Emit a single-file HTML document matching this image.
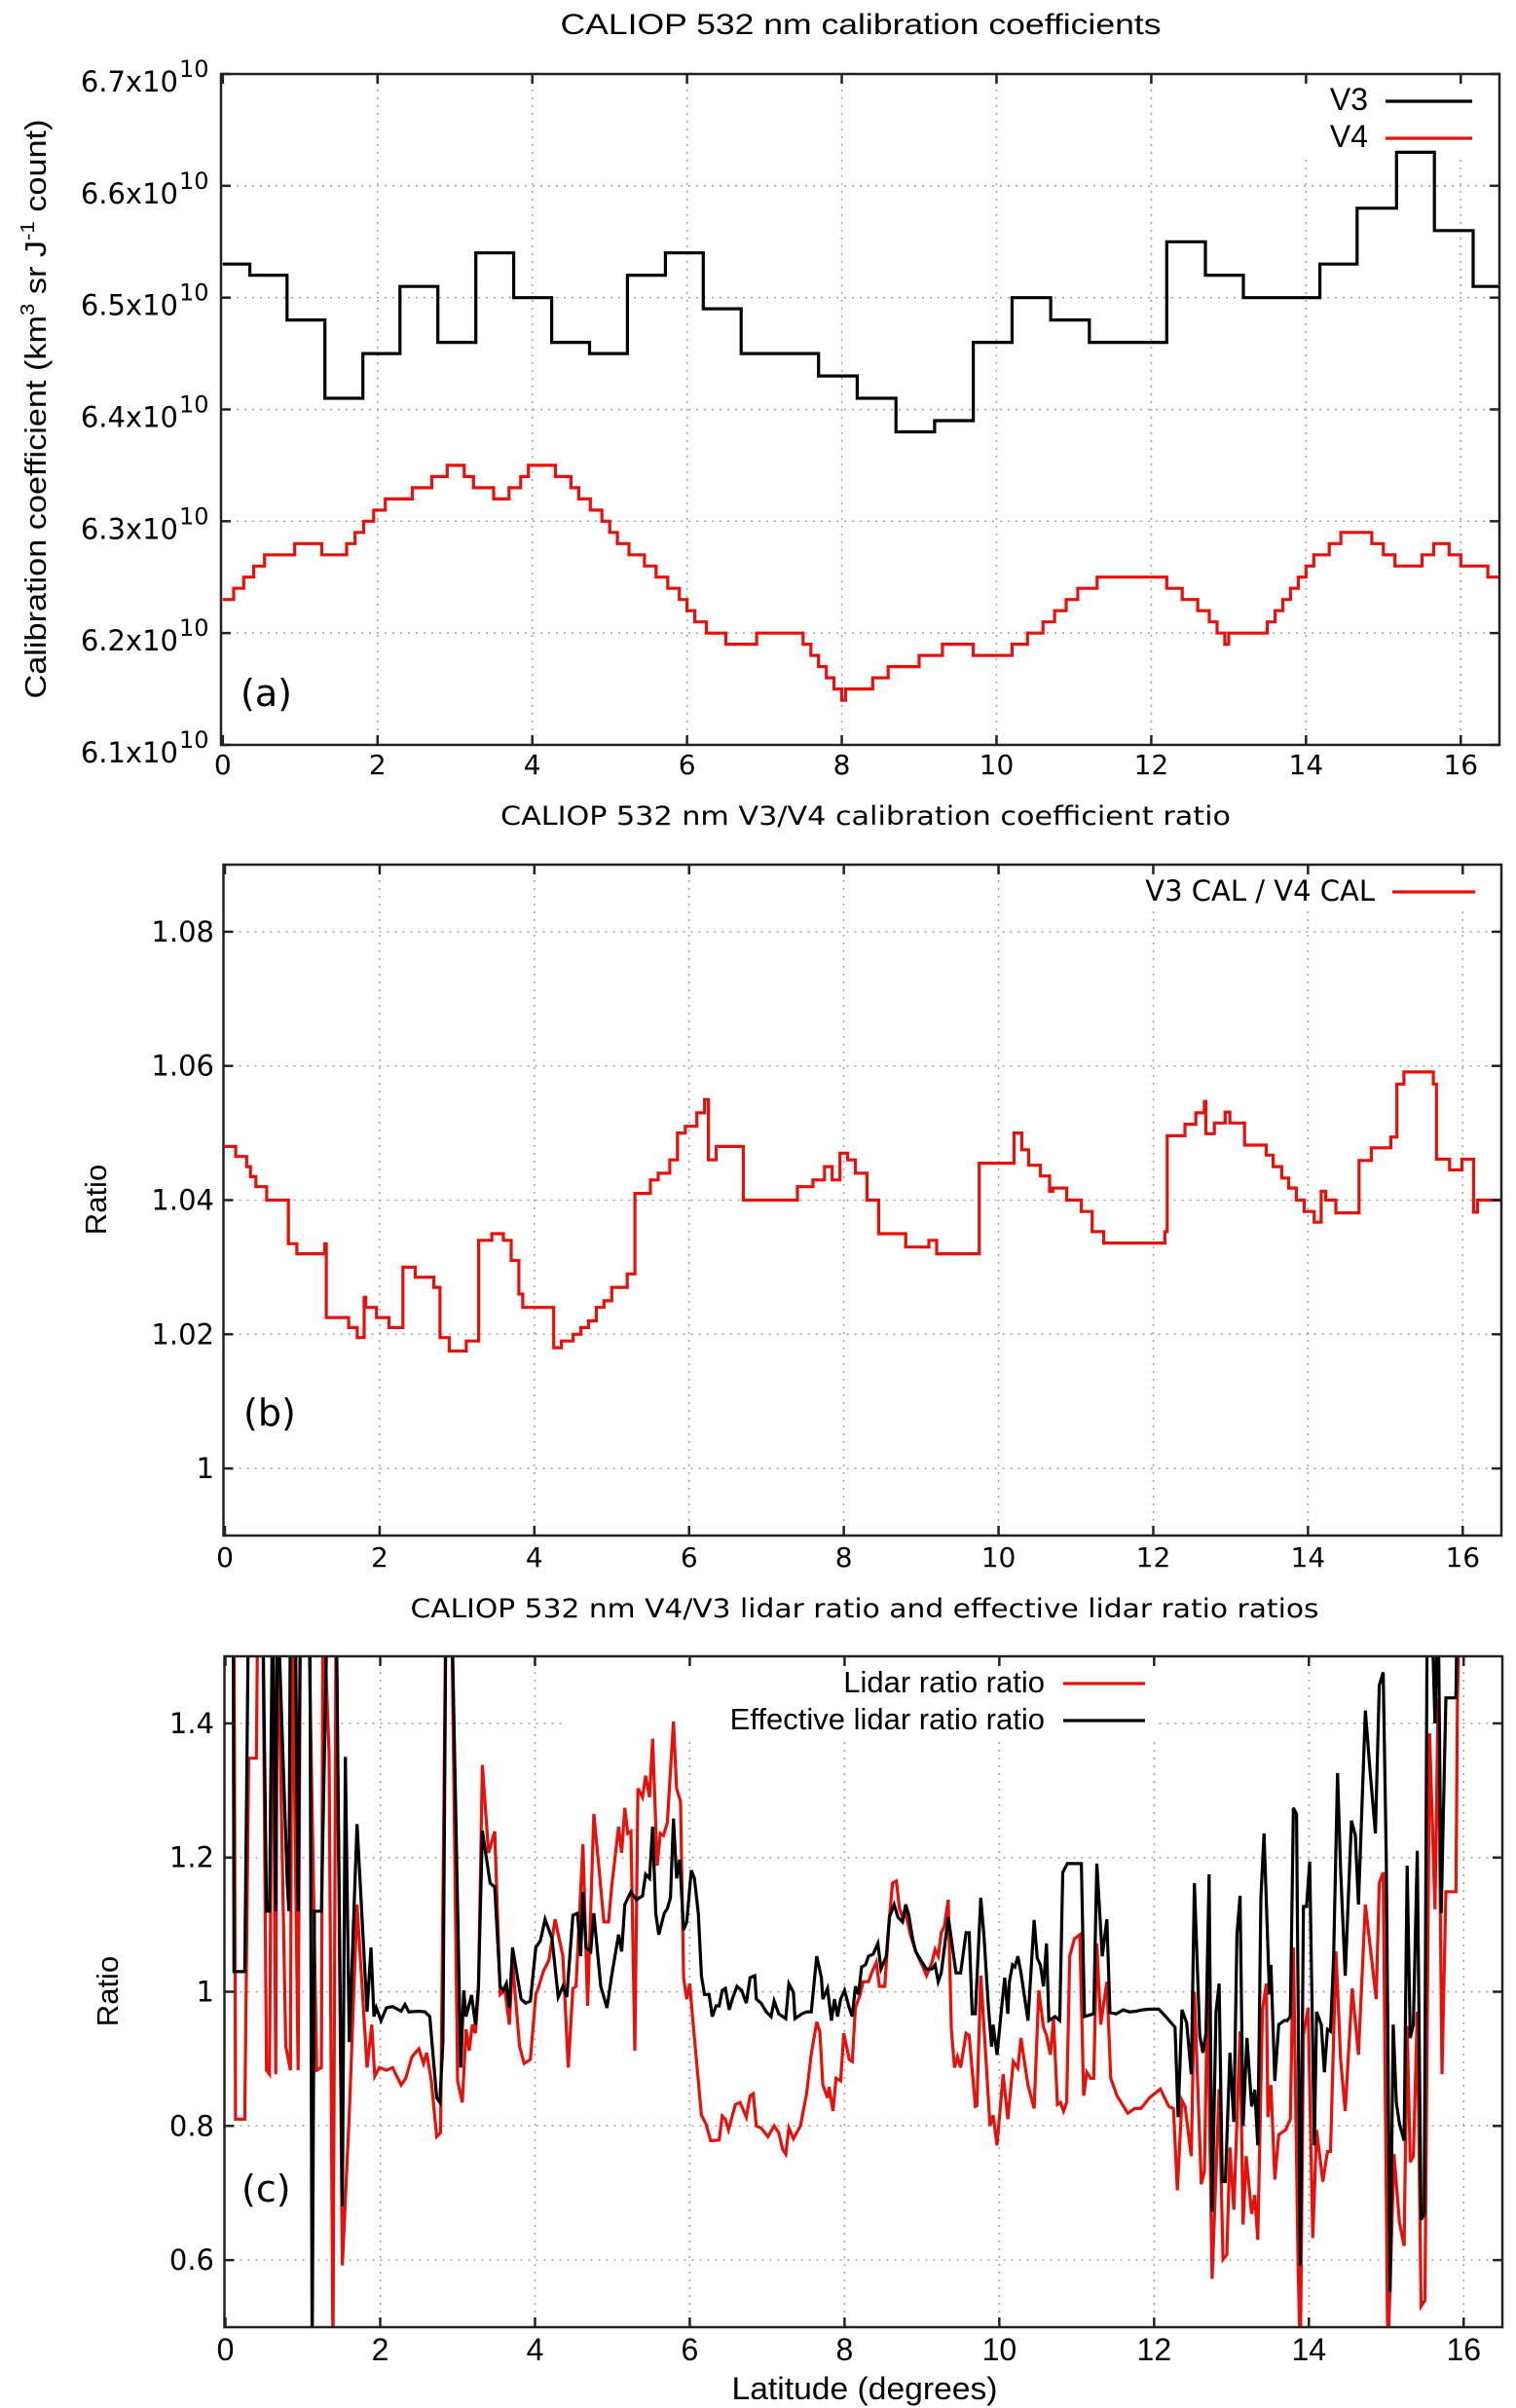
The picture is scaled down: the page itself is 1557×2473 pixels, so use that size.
<!DOCTYPE html>
<html><head><meta charset="utf-8"><title>CALIOP 532 nm calibration</title>
<style>
html,body{margin:0;padding:0;background:#fff;}
svg{display:block;}
.w{font-family:"DejaVu Sans","Liberation Sans",sans-serif;}
.n{font-family:"Liberation Sans",sans-serif;}
</style></head>
<body>
<svg id="fig" width="1557" height="2473" viewBox="0 0 1557 2473" xmlns="http://www.w3.org/2000/svg">
<rect width="1557" height="2473" fill="#fff"/>
<text class="n" x="884" y="35" font-size="30" text-anchor="middle" textLength="617" lengthAdjust="spacingAndGlyphs">CALIOP 532 nm calibration coefficients</text>
<text class="w" x="889" y="847" font-size="27" text-anchor="middle" textLength="750" lengthAdjust="spacingAndGlyphs">CALIOP 532 nm V3/V4 calibration coefficient ratio</text>
<text class="w" x="888" y="1661" font-size="27" text-anchor="middle" textLength="933" lengthAdjust="spacingAndGlyphs">CALIOP 532 nm V4/V3 lidar ratio and effective lidar ratio ratios</text>
<text class="n" transform="translate(47,420) rotate(-90)" font-size="31" text-anchor="middle" textLength="595" lengthAdjust="spacingAndGlyphs">Calibration coefficient (km<tspan font-size="20" dy="-12">3</tspan><tspan dy="12"> sr J</tspan><tspan font-size="20" dy="-12">-1</tspan><tspan dy="12"> count)</tspan></text>
<text class="n" transform="translate(109,1232) rotate(-90)" font-size="31" text-anchor="middle">Ratio</text>
<text class="n" transform="translate(121,2045) rotate(-90)" font-size="31" text-anchor="middle">Ratio</text>
<text class="n" x="888" y="2464" font-size="32" text-anchor="middle" textLength="273" lengthAdjust="spacingAndGlyphs">Latitude (degrees)</text>
</svg>
<script>
// ---------- Panel (a) data ----------
const v3Edges = [0,0.35,0.83,1.32,1.81,2.29,2.78,3.27,3.76,4.25,4.74,5.23,5.72,6.21,6.7,7.7,8.2,8.7,9.2,9.7,10.2,10.7,11.2,12.2,12.7,13.19,14.18,14.66,15.17,15.66,16.16];
const v3Values = [6.53,6.52,6.48,6.41,6.45,6.51,6.46,6.54,6.50,6.46,6.45,6.52,6.54,6.49,6.45,6.43,6.41,6.38,6.39,6.46,6.50,6.48,6.46,6.55,6.52,6.50,6.53,6.58,6.63,6.56,6.51];
const v4Edges = [0,0.14,0.27,0.4,0.54,0.93,1.28,1.6,1.71,1.82,1.95,2.1,2.45,2.7,2.9,3.12,3.24,3.5,3.7,3.85,3.95,4.3,4.5,4.6,4.75,4.9,5.0,5.1,5.25,5.45,5.6,5.75,5.9,6.0,6.1,6.25,6.5,6.9,7.5,7.6,7.7,7.8,7.9,8.0,8.05,8.4,8.6,9.0,9.3,9.7,10.2,10.4,10.6,10.75,10.9,11.05,11.3,12.2,12.4,12.6,12.75,12.85,12.95,13.0,13.5,13.6,13.7,13.8,13.9,14.0,14.1,14.3,14.45,14.85,15.0,15.15,15.5,15.65,15.85,16.0,16.35];
const v4Values = [6.23,6.24,6.25,6.26,6.27,6.28,6.27,6.28,6.29,6.30,6.31,6.32,6.33,6.34,6.35,6.34,6.33,6.32,6.33,6.34,6.35,6.34,6.33,6.32,6.31,6.30,6.29,6.28,6.27,6.26,6.25,6.24,6.23,6.22,6.21,6.20,6.19,6.20,6.19,6.18,6.17,6.16,6.15,6.14,6.15,6.16,6.17,6.18,6.19,6.18,6.19,6.20,6.21,6.22,6.23,6.24,6.25,6.24,6.23,6.22,6.21,6.20,6.19,6.20,6.21,6.22,6.23,6.24,6.25,6.26,6.27,6.28,6.29,6.28,6.27,6.26,6.27,6.28,6.27,6.26,6.25];
const aYTicks = [6.1,6.2,6.3,6.4,6.5,6.6,6.7];
const aYTickLabels = ["6.1","6.2","6.3","6.4","6.5","6.6","6.7"];
const xTicks = [0,2,4,6,8,10,12,14,16];
const xTickLabels = ["0","2","4","6","8","10","12","14","16"];

// ---------- Panel (b) data ----------
const ratioEdges = [0,0.14,0.28,0.33,0.4,0.54,0.82,0.93,1.29,1.31,1.6,1.71,1.8,1.82,1.96,2.12,2.3,2.46,2.7,2.78,2.9,3.12,3.28,3.45,3.6,3.7,3.8,3.85,4.25,4.35,4.5,4.6,4.7,4.8,4.9,5.0,5.2,5.3,5.5,5.6,5.75,5.85,5.95,6.1,6.2,6.25,6.35,6.7,7.4,7.6,7.75,7.85,7.95,8.05,8.15,8.3,8.45,8.8,9.1,9.2,9.75,10.2,10.3,10.39,10.54,10.66,10.7,10.88,11.07,11.21,11.36,12.15,12.18,12.41,12.55,12.66,12.68,12.79,12.93,12.99,13.18,13.46,13.55,13.66,13.75,13.85,13.95,14.08,14.17,14.23,14.36,14.66,14.82,15.07,15.15,15.24,15.62,15.66,15.83,15.99,16.14,16.19];
const ratioValues = [1.048,1.0465,1.045,1.0435,1.042,1.040,1.0335,1.032,1.0335,1.0225,1.021,1.0195,1.0255,1.024,1.0225,1.021,1.030,1.0285,1.027,1.0195,1.0175,1.019,1.034,1.035,1.034,1.031,1.026,1.024,1.018,1.019,1.020,1.021,1.022,1.024,1.025,1.027,1.029,1.041,1.043,1.044,1.046,1.050,1.051,1.053,1.055,1.046,1.048,1.040,1.042,1.043,1.045,1.043,1.047,1.046,1.044,1.040,1.035,1.033,1.034,1.032,1.0455,1.050,1.0475,1.0452,1.0436,1.0413,1.0418,1.040,1.0383,1.0353,1.0336,1.0353,1.0496,1.0513,1.053,1.0547,1.0499,1.0515,1.0531,1.0515,1.0482,1.0467,1.045,1.0433,1.0418,1.040,1.0383,1.0367,1.0413,1.040,1.0381,1.0459,1.0478,1.0494,1.0573,1.0591,1.0573,1.0461,1.0445,1.0461,1.0382,1.040];
const bYTicks = [1.00,1.02,1.04,1.06,1.08];
const bYTickLabels = ["1","1.02","1.04","1.06","1.08"];

// ---------- Panel (c) data ----------
const lrLat = [0,0.11,0.13,0.25,0.30,0.40,0.42,0.48,0.53,0.57,0.61,0.65,0.67,0.78,0.84,0.86,0.94,0.97,1.07,1.18,1.24,1.26,1.34,1.39,1.43,1.51,1.60,1.70,1.83,1.89,1.93,1.99,2.08,2.16,2.27,2.33,2.41,2.50,2.56,2.60,2.66,2.73,2.78,2.85,2.92,3.00,3.06,3.11,3.15,3.19,3.23,3.27,3.32,3.40,3.48,3.55,3.61,3.67,3.71,3.80,3.86,3.94,4.01,4.05,4.11,4.18,4.26,4.36,4.43,4.49,4.53,4.62,4.68,4.76,4.83,4.89,4.95,4.99,5.08,5.12,5.16,5.20,5.24,5.29,5.33,5.39,5.43,5.48,5.52,5.58,5.62,5.66,5.71,5.79,5.83,5.88,5.92,5.96,6.00,6.04,6.09,6.15,6.21,6.27,6.38,6.42,6.46,6.50,6.59,6.65,6.73,6.78,6.82,6.86,6.92,7.01,7.09,7.15,7.20,7.24,7.28,7.34,7.43,7.51,7.57,7.64,7.68,7.72,7.78,7.80,7.85,7.89,7.95,7.99,8.06,8.10,8.14,8.20,8.24,8.31,8.35,8.41,8.45,8.52,8.58,8.62,8.67,8.71,8.75,8.79,8.85,8.92,9.00,9.06,9.13,9.17,9.21,9.25,9.29,9.34,9.38,9.42,9.46,9.50,9.57,9.61,9.69,9.71,9.76,9.82,9.88,9.92,9.97,10.05,10.11,10.18,10.24,10.28,10.32,10.37,10.45,10.51,10.57,10.61,10.66,10.70,10.75,10.79,10.83,10.87,10.91,10.97,11.04,11.09,11.13,11.18,11.22,11.26,11.31,11.39,11.44,11.52,11.66,11.75,11.83,11.94,12.08,12.19,12.25,12.30,12.36,12.40,12.48,12.52,12.61,12.65,12.69,12.75,12.84,12.89,12.94,12.98,13.03,13.11,13.15,13.19,13.26,13.30,13.34,13.40,13.45,13.47,13.51,13.56,13.61,13.70,13.76,13.80,13.86,13.89,13.93,13.99,14.05,14.10,14.18,14.24,14.28,14.35,14.41,14.47,14.56,14.64,14.73,14.87,14.91,14.96,15.02,15.10,15.17,15.23,15.27,15.31,15.35,15.40,15.45,15.50,15.56,15.63,15.67,15.72,15.77,15.90,15.92,15.95];
const lrValues = [1.6,1.6,0.81,0.81,1.348,1.348,1.6,1.6,0.883,0.877,1.6,0.877,1.6,0.919,0.883,1.6,0.883,1.6,1.6,0.883,0.887,1.6,1.354,0.45,1.6,0.592,0.816,1.13,0.887,0.951,0.874,0.887,0.883,0.887,0.861,0.871,0.903,0.915,0.893,0.909,0.867,0.784,0.790,1.6,1.6,0.867,0.835,0.944,0.912,0.951,0.938,1.002,1.338,1.207,1.239,0.996,1.002,0.951,1.044,0.919,0.893,0.899,0.996,1.008,1.031,1.047,1.108,1.053,0.887,1.005,1.008,1.220,0.979,1.265,1.181,1.104,1.104,1.156,1.246,1.207,1.274,1.236,1.239,0.912,1.303,1.290,1.322,1.290,1.377,1.188,1.236,1.233,1.252,1.403,1.303,1.284,1.021,0.989,1.012,0.957,0.893,0.816,0.803,0.778,0.779,0.815,0.810,0.794,0.832,0.835,0.813,0.845,0.848,0.800,0.797,0.784,0.800,0.790,0.765,0.758,0.797,0.781,0.800,0.848,0.907,0.955,0.941,0.861,0.842,0.858,0.822,0.871,0.867,0.938,0.899,0.896,0.976,0.995,1.015,1.015,1.028,1.044,1.008,1.008,1.111,1.162,1.165,1.124,1.111,1.117,1.085,1.060,1.040,1.024,1.044,1.063,1.053,1.088,1.098,1.137,0.944,0.887,0.903,0.887,0.938,0.935,0.829,0.830,1.024,0.912,0.800,0.816,0.771,0.877,0.810,0.896,0.886,0.931,0.899,0.861,0.826,1.002,0.947,0.935,0.906,0.960,0.832,0.835,0.822,0.835,1.053,1.079,1.085,0.845,0.880,0.871,0.871,1.072,0.951,1.015,0.871,0.845,0.819,0.826,0.826,0.842,0.855,0.829,0.826,0.704,0.838,0.829,0.755,1.0,0.713,0.733,1.0,0.572,0.855,0.601,0.608,0.768,0.675,0.941,0.653,0.755,0.669,0.697,0.630,0.974,1.012,0.813,0.861,0.720,0.787,0.794,0.810,1.066,0.592,0.45,0.935,0.976,0.633,0.794,0.717,0.762,0.762,1.060,0.899,0.822,1.005,0.906,1.130,0.989,1.162,1.178,0.45,0.758,0.656,0.621,0.949,0.746,0.755,0.970,0.531,0.540,1.385,1.123,1.438,0.877,1.149,1.149,1.438,1.6];
const elrLat = [0,0.10,0.11,0.25,0.30,0.48,0.53,0.57,0.61,0.65,0.67,0.80,0.82,0.84,0.90,0.94,0.97,1.09,1.12,1.15,1.24,1.32,1.43,1.51,1.55,1.60,1.70,1.83,1.88,1.92,1.95,2.01,2.08,2.16,2.27,2.32,2.37,2.50,2.58,2.64,2.73,2.77,2.81,2.85,2.92,3.04,3.08,3.11,3.18,3.23,3.27,3.32,3.42,3.48,3.55,3.59,3.63,3.67,3.71,3.82,3.88,3.94,4.01,4.07,4.13,4.22,4.30,4.36,4.41,4.49,4.55,4.59,4.62,4.66,4.72,4.76,4.85,4.93,4.99,5.08,5.12,5.16,5.24,5.31,5.39,5.43,5.48,5.52,5.56,5.60,5.67,5.71,5.75,5.79,5.83,5.87,5.92,5.96,6.02,6.06,6.11,6.15,6.19,6.25,6.29,6.34,6.38,6.42,6.46,6.51,6.55,6.61,6.67,6.73,6.78,6.84,6.86,6.92,6.99,7.05,7.09,7.15,7.24,7.28,7.34,7.36,7.45,7.51,7.57,7.64,7.70,7.72,7.78,7.83,7.87,7.91,7.95,8.00,8.06,8.10,8.14,8.18,8.22,8.27,8.31,8.37,8.43,8.47,8.54,8.58,8.64,8.69,8.75,8.79,8.83,8.88,8.92,9.00,9.06,9.13,9.17,9.21,9.25,9.34,9.44,9.50,9.57,9.61,9.65,9.69,9.76,9.80,9.86,9.90,9.92,9.97,10.03,10.07,10.11,10.13,10.17,10.20,10.24,10.28,10.37,10.45,10.49,10.53,10.57,10.61,10.64,10.72,10.78,10.82,10.88,10.94,11.06,11.10,11.22,11.26,11.33,11.39,11.43,11.51,11.60,11.68,11.77,11.85,11.94,12.06,12.15,12.27,12.31,12.36,12.42,12.48,12.52,12.59,12.63,12.67,12.71,12.75,12.80,12.84,12.88,12.92,12.98,13.03,13.07,13.11,13.15,13.20,13.26,13.30,13.34,13.38,13.42,13.49,13.51,13.56,13.61,13.68,13.72,13.76,13.80,13.84,13.89,13.93,13.97,14.01,14.07,14.10,14.16,14.20,14.24,14.28,14.32,14.37,14.41,14.47,14.55,14.60,14.64,14.73,14.79,14.86,14.91,14.96,15.00,15.05,15.09,15.13,15.17,15.23,15.27,15.31,15.35,15.40,15.45,15.49,15.53,15.58,15.63,15.67,15.71,15.77,15.90,15.92];
const elrValues = [1.6,1.6,1.03,1.03,1.6,1.6,1.12,1.12,1.6,1.12,1.6,1.16,1.12,1.6,1.6,1.12,1.6,1.6,0.45,1.12,1.12,1.6,1.6,0.68,1.35,0.925,1.25,0.97,1.066,0.963,0.976,0.957,0.976,0.978,0.971,0.981,0.97,0.971,0.97,0.963,0.842,0.835,0.925,1.6,1.6,0.887,1.002,0.963,0.995,0.951,1.01,1.24,1.162,1.156,1.008,1.002,1.012,0.976,1.066,0.989,0.983,0.986,1.066,1.076,1.108,1.079,0.992,1.008,0.992,1.114,1.117,1.053,1.149,1.066,1.06,1.117,1.008,0.976,1.024,1.085,1.06,1.13,1.149,1.137,1.143,1.175,1.169,1.246,1.117,1.085,1.117,1.124,1.140,1.258,1.169,1.197,1.092,1.104,1.181,1.169,1.117,1.024,0.996,0.996,0.963,0.979,0.979,1.002,1.005,0.973,0.989,1.008,1.002,0.983,1.021,1.024,0.989,0.983,0.970,0.963,0.986,0.967,0.960,1.012,0.999,0.960,0.967,0.970,0.970,1.053,1.021,0.989,1.005,0.957,0.989,0.963,0.989,1.002,0.976,0.963,1.008,0.996,1.037,1.040,1.053,1.056,1.072,1.034,1.053,1.111,1.130,1.111,1.104,1.130,1.114,1.079,1.060,1.044,1.034,1.034,1.040,1.015,1.028,1.111,1.028,1.028,1.088,1.088,0.967,0.967,1.140,1.085,0.976,0.918,0.951,0.906,0.976,1.021,0.967,1.015,1.040,1.037,1.053,1.028,0.957,1.107,1.050,1.040,1.008,1.072,0.957,0.963,0.957,1.178,1.191,1.191,1.191,0.963,0.967,1.191,1.053,1.108,0.969,0.967,0.973,0.970,0.971,0.973,0.974,0.974,0.963,0.947,0.813,0.973,0.954,0.877,1.162,0.935,0.909,0.938,1.175,0.672,0.970,1.012,0.717,0.717,0.909,0.806,1.085,1.143,0.800,0.931,0.829,0.854,0.771,1.140,1.236,0.996,1.040,0.867,0.951,0.957,0.957,0.963,1.274,1.265,0.592,1.127,1.127,1.194,0.771,0.970,0.951,0.880,0.944,0.941,1.053,1.326,1.181,1.024,1.255,1.233,1.130,1.419,1.329,1.236,1.457,1.476,1.194,0.553,0.951,0.835,0.803,0.778,1.188,0.931,0.951,1.210,0.660,0.669,1.6,1.6,1.40,1.6,1.117,1.438,1.438,1.6];
const cYTicks = [0.6,0.8,1.0,1.2,1.4];
const cYTickLabels = ["0.6","0.8","1","1.2","1.4"];

const NS = "http://www.w3.org/2000/svg";
const svg = document.getElementById("fig");
function mk(tag, attrs, parent) {
  const e = document.createElementNS(NS, tag);
  for (const k in attrs) e.setAttribute(k, attrs[k]);
  (parent || svg).appendChild(e);
  return e;
}
function makeAxis(d0, d1, p0, p1) { return v => p0 + (v - d0) * (p1 - p0) / (d1 - d0); }

function panel(cfg) {
  const g = mk("g", {});
  
  
  const X = makeAxis(cfg.xmin, cfg.xmax, cfg.L, cfg.R);
  const Y = makeAxis(cfg.ymin, cfg.ymax, cfg.B, cfg.T);
  xTicks.forEach(t => {
    if (t <= cfg.xmin + 0.05) return;
    const l = mk("line", {x1: X(t), x2: X(t), y1: cfg.T, y2: cfg.B, stroke: "#a0a0a0", "stroke-width": 1.5, "stroke-dasharray": "2,6"}, g);
    
    
  });
  cfg.yTicks.forEach(t => {
    const l = mk("line", {x1: cfg.L, x2: cfg.R, y1: Y(t), y2: Y(t), stroke: "#a0a0a0", "stroke-width": 1.5, "stroke-dasharray": "2,6"}, g);
    
    
  });
  const m = mk("rect", {x: cfg.leg[0], y: cfg.leg[1], width: cfg.leg[2], height: cfg.leg[3], fill: "#fff"}, g);
  
  
  const cp = mk("clipPath", {id: cfg.name + "-clip"}, g);
  mk("rect", {x: cfg.L, y: cfg.T, width: cfg.R - cfg.L, height: cfg.B - cfg.T}, cp);
  cfg.series.forEach(s => {
    let d = "";
    if (s.step) {
      for (let i = 0; i < s.xs.length; i++) {
        const x0 = X(s.xs[i]);
        const x1 = X(i + 1 < s.xs.length ? s.xs[i + 1] : cfg.xmax);
        const y = Y(s.ys[i]);
        d += (i === 0 ? "M" : "L") + x0.toFixed(1) + "," + y.toFixed(1) + "L" + x1.toFixed(1) + "," + y.toFixed(1);
      }
    } else {
      for (let i = 0; i < s.xs.length; i++) {
        d += (i === 0 ? "M" : "L") + X(s.xs[i]).toFixed(1) + "," + Y(s.ys[i]).toFixed(1);
      }
    }
    const p = mk("path", {d: d, fill: "none", stroke: s.color, "stroke-width": 3.2, "stroke-linejoin": "miter", "clip-path": "url(#" + cfg.name + "-clip)"}, g);
    
    
  });
  const b = mk("rect", {x: cfg.L, y: cfg.T, width: cfg.R - cfg.L, height: cfg.B - cfg.T, fill: "none", stroke: "#222", "stroke-width": 2.5}, g);
  
  
  xTicks.forEach((t, i) => {
    const x = X(t);
    mk("line", {x1: x, x2: x, y1: cfg.B, y2: cfg.B - 10, stroke: "#222", "stroke-width": 2.5}, g);
    mk("line", {x1: x, x2: x, y1: cfg.T, y2: cfg.T + 10, stroke: "#222", "stroke-width": 2.5}, g);
    const tx = mk("text", {x: x, y: cfg.xLabY, "text-anchor": "middle", "font-size": cfg.xLabSize, class: cfg.xLabClass}, g);
    tx.textContent = xTickLabels[i];
    
    
  });
  cfg.yTicks.forEach((t, i) => {
    const y = Y(t);
    mk("line", {x1: cfg.L, x2: cfg.L + 10, y1: y, y2: y, stroke: "#222", "stroke-width": 2.5}, g);
    mk("line", {x1: cfg.R, x2: cfg.R - 10, y1: y, y2: y, stroke: "#222", "stroke-width": 2.5}, g);
    const tx = mk("text", {x: cfg.yLabX, y: y + 10, "text-anchor": "end", "font-size": 29, class: "w"}, g);
    
    
    if (cfg.sci) {
      tx.setAttribute("x", 183);
      tx.setAttribute("y", y + 18);
      tx.textContent = cfg.yLabels[i] + "x10";
      const sup = mk("text", {x: 184, y: y + 3, "font-size": 24, class: "w"}, g);
      sup.textContent = "10";
      
      
    } else {
      tx.textContent = cfg.yLabels[i];
    }
  });
  cfg.legend.forEach(le => {
    const tx = mk("text", {x: le.tx, y: le.y + 11, "text-anchor": "end", "font-size": le.size, class: le.cls}, g);
    tx.textContent = le.label;
    
    
    const ln = mk("line", {x1: le.lx1, x2: le.lx2, y1: le.y + 2, y2: le.y + 2, stroke: le.color, "stroke-width": 3.2}, g);
    
    
  });
  const pl = mk("text", {x: cfg.tag[0], y: cfg.tag[1], "font-size": 38, class: "w"}, g);
  pl.textContent = cfg.tag[2];
  
  
}

panel({name: "panel-a", L: 227, R: 1540, T: 76, B: 765, xmin: -0.023, xmax: 16.5, ymin: 6.1, ymax: 6.7,
  yTicks: aYTicks, yLabels: aYTickLabels, sci: true, yLabX: 217, xLabY: 795, xLabSize: 28, xLabClass: "w",
  leg: [1340, 80, 190, 80],
  series: [{id: "v3-line", xs: v3Edges, ys: v3Values, color: "#000", step: true},
           {id: "v4-line", xs: v4Edges, ys: v4Values, color: "#e8100a", step: true}],
  legend: [{label: "V3", tx: 1405, y: 102, lx1: 1423, lx2: 1512, color: "#000", size: 32, cls: "n"},
           {label: "V4", tx: 1405, y: 140, lx1: 1423, lx2: 1512, color: "#e8100a", size: 32, cls: "n"}],
  tag: [247, 725, "(a)"]});

panel({name: "panel-b", L: 229.5, R: 1542, T: 888, B: 1577, xmin: -0.019, xmax: 16.5, ymin: 0.99, ymax: 1.09,
  yTicks: bYTicks, yLabels: bYTickLabels, sci: false, yLabX: 220, xLabY: 1609, xLabSize: 28, xLabClass: "w",
  leg: [1140, 892, 395, 44],
  series: [{id: "ratio-line", xs: ratioEdges, ys: ratioValues, color: "#e8100a", step: true}],
  legend: [{label: "V3 CAL / V4 CAL", tx: 1412, y: 914, lx1: 1430, lx2: 1515, color: "#e8100a", size: 29, cls: "w"}],
  tag: [250, 1464, "(b)"]});

panel({name: "panel-c", L: 230.5, R: 1543, T: 1701, B: 2390, xmin: -0.013, xmax: 16.5, ymin: 0.5, ymax: 1.5,
  yTicks: cYTicks, yLabels: cYTickLabels, sci: false, yLabX: 220, xLabY: 2424, xLabSize: 32, xLabClass: "n",
  leg: [578, 1705, 612, 80],
  series: [{id: "lidar-ratio-ratio-line", xs: lrLat, ys: lrValues, color: "#e8100a", step: false},
           {id: "effective-lidar-ratio-ratio-line", xs: elrLat, ys: elrValues, color: "#000", step: false}],
  legend: [{label: "Lidar ratio ratio", tx: 1073, y: 1727, lx1: 1092, lx2: 1176, color: "#e8100a", size: 31, cls: "n"},
           {label: "Effective lidar ratio ratio", tx: 1073, y: 1765, lx1: 1092, lx2: 1176, color: "#000", size: 31, cls: "n"}],
  tag: [248, 2261, "(c)"]});
</script>
</body></html>
